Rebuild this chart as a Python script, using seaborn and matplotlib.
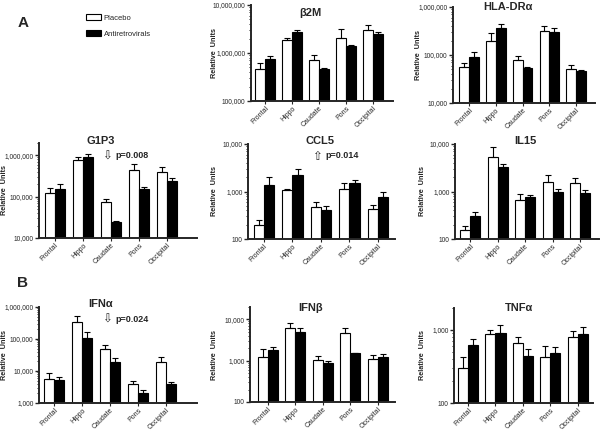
import matplotlib
matplotlib.use("Agg")
import matplotlib.pyplot as plt
import matplotlib.patches as mpatches
from matplotlib.ticker import FuncFormatter, NullFormatter, LogLocator
import seaborn as sns
import pandas as pd

regions = ['Frontal', 'Hippo', 'Caudate', 'Pons', 'Occipital']
groups = ['Placebo', 'Antiretrovirals']

# means and SEM (relative units)
b2m_placebo = [4.7e5, 1.9e6, 7.0e5, 2.1e6, 3.0e6]
b2m_placebo_sem = [1.5e5, 2.0e5, 1.9e5, 1.1e6, 9.0e5]
b2m_arv = [7.6e5, 2.7e6, 4.7e5, 1.37e6, 2.5e6]
b2m_arv_sem = [0.9e5, 3.0e5, 0.25e5, 1.2e5, 2.0e5]

hla_placebo = [5.7e4, 2.0e5, 7.7e4, 3.2e5, 5.2e4]
hla_placebo_sem = [1.2e4, 9.0e4, 1.8e4, 8.0e4, 9.0e3]
hla_arv = [9.2e4, 3.6e5, 5.4e4, 3.0e5, 4.7e4]
hla_arv_sem = [2.2e4, 8.0e4, 3.0e3, 6.0e4, 1.0e3]

g1p3_placebo = [1.25e5, 7.9e5, 7.3e4, 4.4e5, 4.0e5]
g1p3_placebo_sem = [3.9e4, 1.2e5, 1.3e4, 1.7e5, 1.2e5]
g1p3_arv = [1.5e5, 9.1e5, 2.4e4, 1.5e5, 2.4e5]
g1p3_arv_sem = [4.8e4, 1.9e5, 2.5e3, 2.0e4, 4.0e4]

ccl5_placebo = [200, 1080, 480, 1150, 430]
ccl5_placebo_sem = [50, 70, 110, 360, 100]
ccl5_arv = [1370, 2180, 410, 1490, 776]
ccl5_arv_sem = [680, 860, 78, 230, 177]

il15_placebo = [153, 5380, 672, 1560, 1510]
il15_placebo_sem = [33, 3400, 210, 620, 380]
il15_arv = [299, 3240, 751, 985, 909]
il15_arv_sem = [75, 620, 90, 130, 157]

ifna_placebo = [5800, 3.3e5, 4.9e4, 4000, 1.9e4]
ifna_placebo_sem = [2800, 2.1e5, 1.8e4, 900, 9000]
ifna_arv = [5400, 1.1e5, 1.85e4, 2100, 3850]
ifna_arv_sem = [1200, 5.0e4, 6500, 500, 750]

ifnb_placebo = [1260, 6070, 1050, 4770, 1130]
ifnb_placebo_sem = [630, 2250, 280, 1300, 280]
ifnb_arv = [1820, 4860, 870, 1545, 1240]
ifnb_arv_sem = [290, 1210, 140, 35, 200]

tnfa_placebo = [300, 871, 653, 426, 800]
tnfa_placebo_sem = [131, 119, 147, 174, 180]
tnfa_arv = [626, 908, 435, 484, 871]
tnfa_arv_sem = [132, 252, 116, 96, 229]

sns.set_style('ticks')
plt.rcParams['font.family'] = ['Liberation Sans', 'DejaVu Sans']

W, H = 601, 434
fig = plt.figure(figsize=(W / 100, H / 100), dpi=100)

# panel layout in pixels: left, right, top, bottom, ylim, xlim, title pos, ylabel x
panels = [
    dict(name='β2M', p=b2m_placebo, ps=b2m_placebo_sem, a=b2m_arv, as_=b2m_arv_sem,
         box=(251, 393, 5, 101), ylim=(1e5, 1e7), xlim=(-0.52, 4.74), tpos=(310, 13), ylx=214),
    dict(name='HLA-DRα', p=hla_placebo, ps=hla_placebo_sem, a=hla_arv, as_=hla_arv_sem,
         box=(453, 595, 7, 103), ylim=(1e4, 1e6), xlim=(-0.6, 4.71), tpos=(508, 7), ylx=419),
    dict(name='G1P3', p=g1p3_placebo, ps=g1p3_placebo_sem, a=g1p3_arv, as_=g1p3_arv_sem,
         box=(39, 197, 143, 238), ylim=(1e4, 2e6), xlim=(-0.57, 5.07), tpos=(101, 141), ylx=5),
    dict(name='CCL5', p=ccl5_placebo, ps=ccl5_placebo_sem, a=ccl5_arv, as_=ccl5_arv_sem,
         box=(248, 395, 144, 239), ylim=(1e2, 1e4), xlim=(-0.56, 4.6), tpos=(320, 141), ylx=215),
    dict(name='IL15', p=il15_placebo, ps=il15_placebo_sem, a=il15_arv, as_=il15_arv_sem,
         box=(455, 599, 144, 239), ylim=(1e2, 1e4), xlim=(-0.55, 4.69), tpos=(525, 141), ylx=423),
    dict(name='IFNα', p=ifna_placebo, ps=ifna_placebo_sem, a=ifna_arv, as_=ifna_arv_sem,
         box=(39, 197, 307, 403), ylim=(1e3, 1e6), xlim=(-0.54, 5.1), tpos=(101, 304), ylx=5),
    dict(name='IFNβ', p=ifnb_placebo, ps=ifnb_placebo_sem, a=ifnb_arv, as_=ifnb_arv_sem,
         box=(250, 395, 307, 402), ylim=(1e2, 2e4), xlim=(-0.65, 4.62), tpos=(311, 308), ylx=215),
    dict(name='TNFα', p=tnfa_placebo, ps=tnfa_placebo_sem, a=tnfa_arv, as_=tnfa_arv_sem,
         box=(454, 593, 308, 403), ylim=(1e2, 2e3), xlim=(-0.51, 4.55), tpos=(519, 308), ylx=422),
]

comma = FuncFormatter(lambda v, pos: f'{int(round(v)):,}')

for pn in panels:
    l, r, t, b = pn['box']
    ax = fig.add_axes([l / W, 1 - b / H, (r - l) / W, (b - t) / H])
    df = pd.DataFrame({
        'region': regions * 2,
        'group': [groups[0]] * 5 + [groups[1]] * 5,
        'value': pn['p'] + pn['a'],
    })
    sns.barplot(data=df, x='region', y='value', hue='group', hue_order=groups,
                palette={'Placebo': 'white', 'Antiretrovirals': 'black'},
                edgecolor='black', linewidth=0.8, width=0.73, errorbar=None,
                legend=False, ax=ax)
    for cont, sems in zip(ax.containers, [pn['ps'], pn['as_']]):
        for bar, s in zip(cont, sems):
            ax.errorbar(bar.get_x() + bar.get_width() / 2, bar.get_height(),
                        yerr=[[0], [s]], fmt='none', ecolor='black',
                        elinewidth=0.8, capsize=2.2, capthick=0.8, zorder=1)
    ax.set_yscale('log')
    ax.set_ylim(*pn['ylim'])
    ax.set_xlim(*pn['xlim'])
    ax.yaxis.set_major_locator(LogLocator(base=10))
    ax.yaxis.set_major_formatter(comma)
    ax.yaxis.set_minor_locator(LogLocator(base=10, subs=range(2, 10)))
    ax.yaxis.set_minor_formatter(NullFormatter())
    ax.set_xlabel('')
    ax.set_ylabel('')
    sns.despine(ax=ax)
    for sp in ['left', 'bottom']:
        ax.spines[sp].set_linewidth(1.4)
    ax.tick_params(axis='y', which='major', length=3, width=1, labelsize=4.8, pad=1)
    ax.tick_params(axis='y', which='minor', length=1.6, width=0.7)
    ax.tick_params(axis='x', length=2, width=0.8, labelsize=5, pad=1)
    for lab in ax.get_xticklabels():
        lab.set_rotation(45)
        lab.set_ha('right')
        lab.set_rotation_mode('anchor')
    tx, ty = pn['tpos']
    fig.text(tx / W, 1 - ty / H, pn['name'], ha='center', va='center',
             fontsize=8, fontweight='bold')
    fig.text(pn['ylx'] / W, 1 - ((t + b) / 2) / H, 'Relative  Units', rotation=90,
             ha='center', va='center', fontsize=5.2, fontweight='bold')

# p-value notes
notes = [('⇩', 'p=0.008', 107, 156), ('⇧', 'p=0.014', 317, 156), ('⇩', 'p=0.024', 107, 319)]
for arrow, txt, x, y in notes:
    fig.text(x / W, 1 - y / H, arrow, ha='center', va='center', fontsize=8.5,
             family=['DejaVu Sans'])
    fig.text((x + 8) / W, 1 - y / H, txt, ha='left', va='center', fontsize=6.5,
             fontweight='bold')

fig.text(23 / W, 1 - 23 / H, 'A', ha='center', va='center', fontsize=11, fontweight='bold')
fig.text(23 / W, 1 - 283 / H, 'B', ha='center', va='center', fontsize=11, fontweight='bold')

handles = [mpatches.Patch(facecolor='white', edgecolor='black', linewidth=0.8),
           mpatches.Patch(facecolor='black', edgecolor='black', linewidth=0.8)]
fig.legend(handles, groups, loc='upper left', bbox_to_anchor=(86 / W, 1 - 14 / H),
           frameon=False, fontsize=5.5, handlelength=2.0, handleheight=0.8,
           handletextpad=0.3, labelspacing=1.1, borderaxespad=0, borderpad=0)

fig.savefig('out.png', dpi=100)
